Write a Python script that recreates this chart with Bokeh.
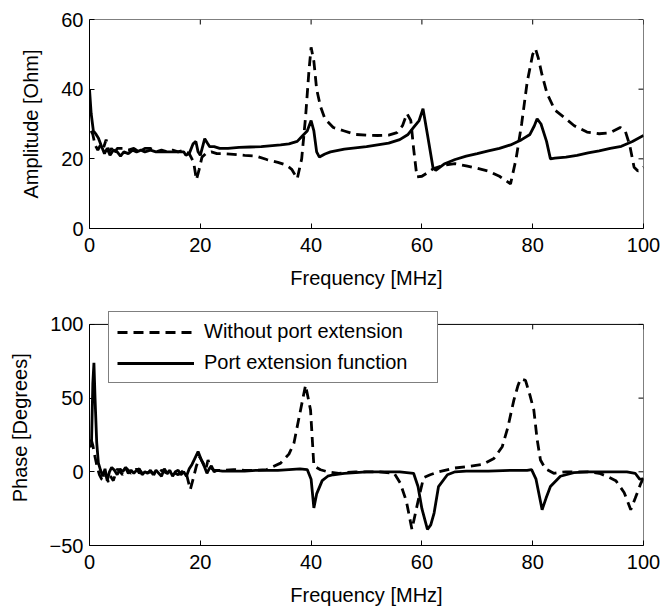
from bokeh.plotting import figure
from bokeh.layouts import column
from bokeh.models import FixedTicker, Range1d, Legend, LegendItem
from bokeh.embed import file_html
from bokeh.resources import INLINE

# ---------------- data ----------------
amp_port_x = [0, 0.3, 0.7, 1.2, 1.6, 2.2, 2.7, 3.2, 3.7, 4.3, 5, 5.6, 6.2, 7, 7.8, 8.5, 9.3, 10, 11, 12,
              13, 14, 15, 16, 17, 17.4, 18, 18.7, 19.2, 19.6, 20, 20.8, 21.3, 21.7, 22.5, 23.5, 25, 27, 29, 31,
              33, 34.5, 36, 37.5, 38.5, 39.3, 40, 40.5, 41, 41.5, 42.5, 43.5, 46, 50, 54, 56, 57.5, 58.5, 59.5,
              60.2, 61, 62, 62.5, 64, 66, 68, 70, 72, 74, 76, 78, 79.5, 80.3, 80.8, 81.5, 82.5, 83.2, 84, 86,
              88, 90, 92, 94, 96, 98, 100]
amp_port_y = [40, 33, 28, 27, 26, 23.5, 21.5, 23, 21, 22.5, 22, 20.8, 22, 21.5, 22.5, 22, 22.5, 22, 22.5, 22,
              22, 22, 22, 22, 22, 21, 21.5, 24.3, 25, 22, 21, 25.8, 24.5, 23.5, 23.5, 23, 23, 23.3, 23.4, 23.5,
              23.8, 24, 24.3, 25, 26.7, 28, 31, 28, 22, 20.5, 21.4, 22, 22.8, 23.5, 24.5, 25.5, 27, 29, 31,
              34.4, 27, 17.5, 16.7, 18.5, 19.8, 20.8, 21.5, 22.3, 23, 24, 25.5, 27, 29.5, 31.5, 30, 25, 20, 20.2, 20.5,
              21, 21.7, 22.3, 23, 23.6, 25, 26.7]

amp_without_x = [0.3, 0.6, 1, 1.5, 2, 2.5, 3, 3.5, 4, 4.5, 5, 6, 7, 8, 9, 10, 11, 12, 13, 14,
                 15, 16, 17, 18, 18.8, 19.3, 19.8, 20.3, 21, 22, 23, 24, 26, 28, 30, 32, 34, 35.5, 36.5, 37.5,
                 38.3, 39, 39.6, 40, 40.5, 41, 41.7, 42.5, 44, 46, 48, 50, 52, 54, 55.5, 56.5, 57.3, 58, 58.5, 59.1,
                 60, 61, 62, 64, 66, 68, 70, 72, 74, 76, 77, 78, 79, 80, 80.5, 81, 81.7, 82.6, 84, 85.6,
                 87.5, 89.8, 92, 94, 95.8, 96.7, 97.5, 98.3, 99, 100]
amp_without_y = [28, 27, 24, 22.5, 24, 23, 25.5, 22, 23, 21.5, 23, 23, 22.5, 23, 22, 23, 23, 22, 22.5, 22,
                 22.5, 22, 22.5, 21.5, 19, 14, 17, 20.5, 21.5, 22, 21.5, 21.5, 21.3, 21, 20.8, 19.8, 19, 18.2, 17, 14.3,
                 20, 32, 45, 52, 48, 40, 35, 31.5, 29, 28, 27, 26.8, 26.7, 26.8, 27.5, 29.5, 33, 31, 23, 14.8,
                 15, 16, 17.1, 18.2, 18.6, 18, 17.3, 16.5, 15, 12.8, 20, 30, 42, 50, 51.6, 49, 44, 38.7, 34, 32,
                 29.5, 27.7, 27.2, 27.5, 29, 28, 24, 17.6, 16.5, 17.6]

ph_port_x = [0, 0.35, 0.6, 0.8, 1.0, 1.3, 1.6, 2, 2.4, 2.8, 3.2, 3.6, 4, 4.5, 5, 5.5, 6, 6.5, 7, 7.5,
             8, 8.5, 9, 9.5, 10, 10.5, 11, 11.5, 12, 12.5, 13, 13.5, 14, 14.5, 15, 15.5, 16, 16.5, 17, 17.5,
             18, 18.5, 19, 19.6, 20.2, 20.8, 21.2, 21.6, 22, 22.5, 23, 24, 26, 28, 30, 32, 34, 36, 38, 39.3,
             40, 40.5, 41, 42, 43, 44, 46, 48, 50, 52, 54, 56, 58.5, 59.3, 60, 61, 61.6, 62.2, 63, 64.6,
             66, 68, 72, 76, 79, 79.8, 80.6, 81.7, 82.4, 83.2, 85, 87.4, 90, 94, 97, 98.5, 99.3, 100]
ph_port_y = [18, 17, 60, 74, 50, 20, 6, 1, -3, 2, -6, 0, 3, 1, -2, 2, 0, 3, -1, 1,
             -1, 1, 2, -2, 0, -1, 1, -2, 1, -1, -3, 2, -1, 1, -3, 0, 1, -2, 0, -3,
             2, 5, 9, 13.7, 8, 3, -1, 2, 4, 0, 1, 0.5, 0.5, 0.5, 1, 1, 1, 1.5, 2, 1.5,
             -5, -24.5, -15, -6, -3, -2, -1, -0.5, 0, 0, 0, 0, -1, -10, -25, -39, -36, -28, -10, -2,
             0, 0.5, 0.5, 1, 1, 1.5, -5, -25.7, -18, -10, -3, -0.5, 0, 0, 0, -1, -5, -5]

ph_without_x = [0.3, 0.6, 1, 1.4, 1.8, 2.2, 2.6, 3, 3.4, 3.8, 4.3, 5, 5.5, 6, 6.5, 7, 7.5, 8, 8.5, 9,
                9.5, 10, 11, 12, 13, 14, 15, 16, 17, 17.6, 18.2, 18.7, 19.3, 19.9, 20.5, 21, 21.4, 21.8, 22.5, 24,
                26, 28, 30, 32, 34.5, 36, 36.9, 38.1, 39, 39.9, 40.5, 41.7, 43, 45, 48, 52, 55, 56.1, 57.2, 58.2,
                59.3, 60.3, 61.5, 63, 65.8, 68, 71, 73, 74.5, 75.5, 76.6, 77.3, 77.8, 78.7, 79.5, 80.2, 80.8, 81.4, 82.3, 83.8,
                86, 88, 90, 92, 93.4, 95, 96.5, 97.7, 98.5, 99.5, 100]
ph_without_y = [22, 18, 10, 3, -2, -5, -6, -2, -7, -3, -6, 2, 0, -2, 3, 1, -1, 0, 2, -1,
                1, -1, 0, -2, 1, -1, 0, -2, 1, -3, -12, -5, 4, 10, 6, 2, 8, 3, 1, 1,
                1.5, 1, 1, 1.5, 5.9, 12, 19.4, 42, 58.8, 42, 4, 1.4, 0, -1, 0, 0, -1, -7.7, -20, -39,
                -20, -4, -2, 0, 2.5, 3.5, 5, 9, 17, 30, 48.6, 58, 63, 62, 52, 42, 22, 8, 2, -1,
                0, 0, 0, -1, -3, -6, -14, -25.7, -18, -8, -4]

x_ticks = [0, 20, 40, 60, 80, 100]
amp_ticks = [0, 20, 40, 60]
ph_ticks = [-50, 0, 50, 100]

x_title = "Frequency [MHz]"
amp_title = "Amplitude [Ohm]"
ph_title = "Phase  [Degrees]"
legend_labels = ["Without port extension", "Port extension function"]

FONT = "Liberation Sans"
DASH = "10 6"
LW = 2.8
TICK_PX = 5


def style_axes(p, xr, yr, yticks, xtitle, ytitle, px_w, px_h):
    for ax in p.xaxis + p.yaxis:
        ax.major_tick_in = TICK_PX
        ax.major_tick_out = 0
        ax.minor_tick_line_color = None
        ax.axis_line_color = "black"
        ax.major_tick_line_color = "black"
        ax.major_label_text_font = FONT
        ax.major_label_text_font_size = "20px"
        ax.major_label_text_color = "black"
        ax.axis_label_text_font = FONT
        ax.axis_label_text_font_size = "20px"
        ax.axis_label_text_font_style = "normal"
        ax.axis_label_text_color = "black"
    p.xaxis.ticker = FixedTicker(ticks=x_ticks)
    p.yaxis.ticker = FixedTicker(ticks=yticks)
    p.yaxis.bounds = (yr[0], yr[1])
    p.xaxis.axis_label = xtitle
    p.yaxis.axis_label = ytitle
    p.xaxis.major_label_standoff = 9
    p.yaxis.major_label_standoff = 6
    p.xaxis.axis_label_standoff = 12
    p.yaxis.axis_label_standoff = 16
    p.xgrid.grid_line_color = None
    p.ygrid.grid_line_color = None
    p.outline_line_color = None
    p.background_fill_color = "white"
    p.border_fill_color = "white"
    # box: top and right frame lines with inward ticks
    p.quad(left=xr[0], right=xr[1], bottom=yr[0], top=yr[1], fill_color=None,
           line_color="black", line_width=1)
    dy = TICK_PX * (yr[1] - yr[0]) / px_h
    dx = TICK_PX * (xr[1] - xr[0]) / px_w
    p.segment(x0=x_ticks, y0=[yr[1]] * len(x_ticks), x1=x_ticks, y1=[yr[1] - dy] * len(x_ticks),
              line_color="black", line_width=1)
    p.segment(x0=[xr[1]] * len(yticks), y0=yticks, x1=[xr[1] - dx] * len(yticks), y1=yticks,
              line_color="black", line_width=1)


# ---- top: amplitude ----
p1 = figure(width=664, height=304, output_backend="svg", toolbar_location=None,
            x_range=Range1d(0, 100), y_range=Range1d(0, 60),
            min_border_left=89, min_border_right=21, min_border_top=19, min_border_bottom=76)
p1.line(amp_without_x, amp_without_y, line_color="black", line_width=LW, line_dash=DASH)
p1.line(amp_port_x, amp_port_y, line_color="black", line_width=LW)
style_axes(p1, (0, 100), (0, 60), amp_ticks, x_title, amp_title, 554, 209)

# ---- bottom: phase (frame extended upward so the legend can overhang the box) ----
ph_lo, ph_hi = -50, 100
ph_px = 222
EXTRA_PX = 20
ph_extra = EXTRA_PX * (ph_hi - ph_lo) / ph_px
p2 = figure(width=664, height=304, output_backend="svg", toolbar_location=None,
            x_range=Range1d(0, 100), y_range=Range1d(ph_lo, ph_hi + ph_extra),
            min_border_left=89, min_border_right=21, min_border_top=0, min_border_bottom=62)
r_dash = p2.line(ph_without_x, ph_without_y, line_color="black", line_width=LW, line_dash=DASH)
r_sol = p2.line(ph_port_x, ph_port_y, line_color="black", line_width=LW)
style_axes(p2, (0, 100), (ph_lo, ph_hi), ph_ticks, x_title, ph_title, 554, ph_px)

legend = Legend(items=[LegendItem(label=legend_labels[0], renderers=[r_dash]),
                       LegendItem(label=legend_labels[1], renderers=[r_sol])],
                location=(19, 162), orientation="vertical",
                label_text_font=FONT, label_text_font_size="20px", label_text_color="black",
                glyph_width=77, glyph_height=20, label_height=20, label_width=225, label_standoff=10,
                padding=8, spacing=8, margin=0,
                border_line_color="black", border_line_width=1,
                background_fill_color="white", background_fill_alpha=1.0)
p2.add_layout(legend, "center")

layout = column(p1, p2, spacing=0)

open("out.html", "w").write(file_html(layout, INLINE))
